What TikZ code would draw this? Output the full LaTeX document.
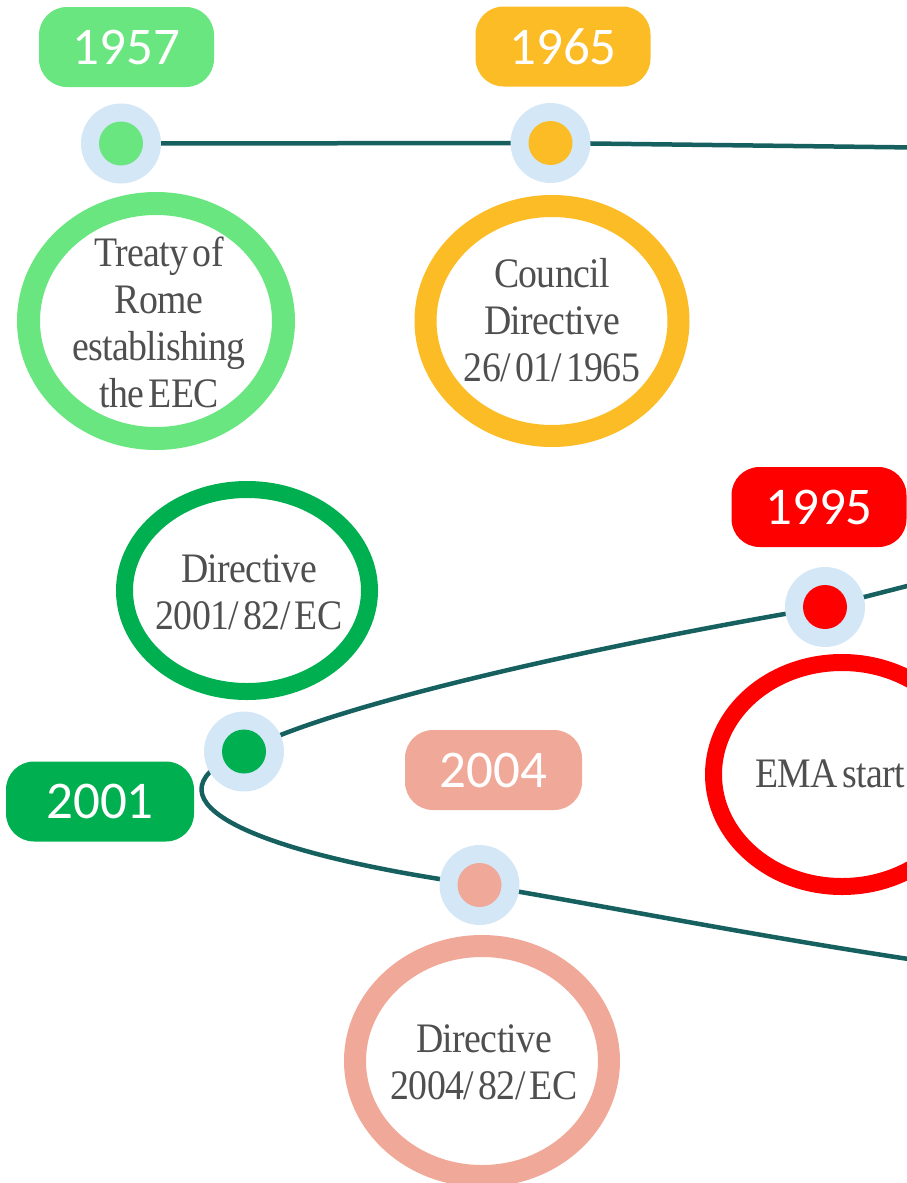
\documentclass[tikz,border=0pt]{standalone}
\usepackage{fontspec}
\setmainfont{Liberation Serif}[FakeStretch=0.9]
\newfontfamily\ringfont{Liberation Serif}[FakeStretch=0.9, LetterSpace=-1.5]
\newfontfamily\yearfont{Carlito}
\newcommand\ringsetup{\ringfont\fontsize{42}{47}\selectfont\spaceskip 0.1em\relax}
\usetikzlibrary{shapes.geometric,backgrounds}
\definecolor{lgreen}{HTML}{6AE680}
\definecolor{gold}{HTML}{FBBC26}
\definecolor{dred}{HTML}{FF0000}
\definecolor{dgreen}{HTML}{00B050}
\definecolor{salmon}{HTML}{F0A898}
\definecolor{dotblue}{HTML}{D4E7F7}
\definecolor{tline}{HTML}{16615F}
\definecolor{txtgray}{HTML}{4F4F4F}
\tikzset{
  year/.style={rectangle, rounded corners=28pt, minimum width=175pt, minimum height=80pt, inner sep=0pt, text=white, font=\yearfont\fontsize{53}{60}\selectfont},
  halo/.style={circle, fill=dotblue, minimum size=80pt, inner sep=0pt},
  core/.style={circle, minimum size=44pt, inner sep=0pt},
  ring/.style={ellipse, draw, inner sep=0pt},
  ringtext/.style={align=center, text=txtgray, font=\ringsetup, inner sep=0pt},
  tl/.style={draw=tline, line width=4.5pt}
}
\begin{document}
\begin{tikzpicture}[x=1pt, y=-1pt]
\useasboundingbox (0,0) rectangle (906,1183);

% year labels
\node[year, fill=lgreen] (y1957) at (126.5,47) {1957};
\node[year, fill=gold] (y1965) at (563,46.5) {1965};
\node[year, fill=dred] (y1995) at (819,507) {1995};
\node[year, fill=dgreen, minimum width=188pt] (y2001) at (100,801.5) {2001};
\node[year, fill=salmon, minimum width=177pt] (y2004) at (493.5,770) {2004};

% event ellipses
\node[ring, draw=lgreen, line width=23pt, minimum width=255pt, minimum height=235pt] (e1957) at (156,321) {};
\node[ring, draw=gold, line width=22pt, minimum width=253pt, minimum height=230pt] (e1965) at (552,321) {};
\node[ring, draw=dgreen, line width=17pt, minimum width=245pt, minimum height=202pt] (e2001) at (247,590.5) {};
\node[ring, draw=dred, line width=17pt, minimum width=257pt, minimum height=224pt] (e1995) at (842,774.5) {};
\node[ring, draw=salmon, line width=22pt, minimum width=254pt, minimum height=230pt] (e2004) at (482,1061) {};

% event texts
\node[ringtext] (t1957) at (159,322) {Treaty of\\Rome\\establishing\\the EEC};
\node[ringtext] (t1965) at (552,320) {Council\\Directive\\26/ 01/ 1965};
\node[ringtext] (t2001) at (249,592) {Directive\\2001/ 82/ EC};
\node[ringtext, anchor=base west] (t1995) at (755,787) {EMA start};
\node[ringtext] (t2004) at (484,1062) {Directive\\2004/ 82/ EC};

% timeline dots
\node[halo] (d1957) at (121,143.5) {};
\node[core, fill=lgreen] (c1957) at (d1957) {};
\node[halo] (d1965) at (550.5,143) {};
\node[core, fill=gold] (c1965) at (d1965) {};
\node[halo] (d1995) at (825,607) {};
\node[core, fill=dred] (c1995) at (d1995) {};
\node[halo] (d2001) at (244,751.5) {};
\node[core, fill=dgreen] (c2001) at (d2001) {};
\node[halo] (d2004) at (479.5,885) {};
\node[core, fill=salmon] (c2004) at (d2004) {};

\coordinate (rt1) at (915,147.5);
\coordinate (rt2) at (915,584);
\coordinate (rt3) at (915,960);

\begin{pgfonlayer}{background}
\draw[tl] (d1957.center) -- (d1965.center) -- (rt1);
\draw[tl] (rt2) -- (d1995.center)
  .. controls (600,645) and (330,705) .. (d2001.center)
  .. controls (140,795) and (230,850) .. (d2004.center)
  .. controls (600,905) and (750,935) .. (rt3);
\end{pgfonlayer}
\end{tikzpicture}
\end{document}
